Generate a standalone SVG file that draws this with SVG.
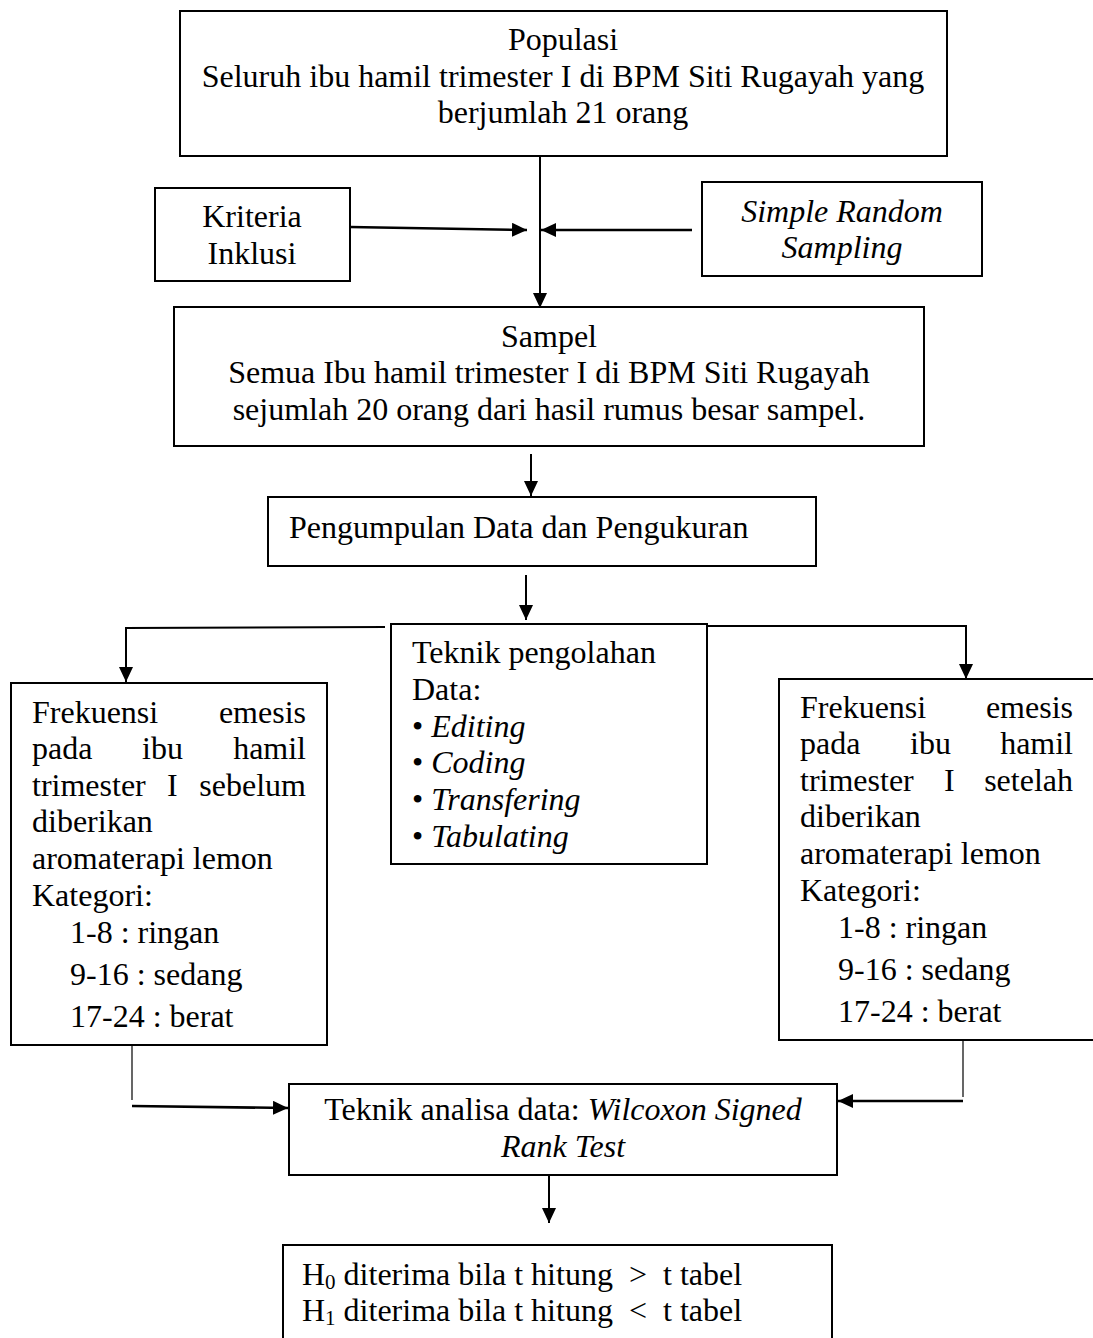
<svg xmlns="http://www.w3.org/2000/svg" width="1093" height="1338" viewBox="0 0 1093 1338">
<style>
  text { font-family: "Liberation Serif", "Times New Roman", serif; font-size: 32px; fill: #000; }
  .it { font-style: italic; }
  .c { text-anchor: middle; }
  .e { text-anchor: end; }
  .box { fill: #fff; stroke: #000; stroke-width: 2; }
  .ln { fill: none; stroke: #000; stroke-width: 2; }
  .thin { fill: none; stroke: #000; stroke-width: 1.2; }
  .thick { fill: none; stroke: #000; stroke-width: 2.6; }
</style>
<defs>
  <marker id="ah" markerUnits="userSpaceOnUse" markerWidth="16" markerHeight="14" refX="15" refY="7" orient="auto">
    <path d="M0,0 L15,7 L0,14 Z" fill="#000"/>
  </marker>
</defs>
<rect width="1093" height="1338" fill="#fff"/>

<g id="connectors">
  <line class="ln" x1="540" y1="156" x2="540" y2="308" marker-end="url(#ah)"/>
  <line class="thick" x1="350" y1="227" x2="527" y2="230" marker-end="url(#ah)"/>
  <line class="thick" x1="692" y1="230" x2="541" y2="230" marker-end="url(#ah)"/>
  <line class="ln" x1="531" y1="454" x2="531" y2="496" marker-end="url(#ah)"/>
  <line class="ln" x1="526" y1="575" x2="526" y2="620" marker-end="url(#ah)"/>
  <polyline class="ln" points="385,627 126,628 126,682" marker-end="url(#ah)"/>
  <polyline class="ln" points="707,626 966,626 966,679" marker-end="url(#ah)"/>
  <line class="thin" x1="132" y1="1045" x2="132" y2="1100"/>
  <line class="thick" x1="132" y1="1106" x2="288" y2="1108" marker-end="url(#ah)"/>
  <line class="thin" x1="963" y1="1041" x2="963" y2="1097"/>
  <line class="thick" x1="963" y1="1101" x2="838" y2="1101" marker-end="url(#ah)"/>
  <line class="ln" x1="549" y1="1168" x2="549" y2="1223" marker-end="url(#ah)"/>
</g>

<g id="populasi">
  <rect class="box" x="180" y="11" width="767" height="145"/>
  <text class="c" x="563" y="50">Populasi</text>
  <text class="c" x="563" y="87">Seluruh ibu hamil trimester I di BPM Siti Rugayah yang</text>
  <text class="c" x="563" y="123">berjumlah 21 orang</text>
</g>

<g id="kriteria">
  <rect class="box" x="155" y="188" width="195" height="93"/>
  <text class="c" x="252" y="227">Kriteria</text>
  <text class="c" x="252" y="264">Inklusi</text>
</g>

<g id="sampling">
  <rect class="box" x="702" y="182" width="280" height="94"/>
  <text class="c it" x="842" y="222">Simple Random</text>
  <text class="c it" x="842" y="258">Sampling</text>
</g>

<g id="sampel">
  <rect class="box" x="174" y="307" width="750" height="139"/>
  <text class="c" x="549" y="347">Sampel</text>
  <text class="c" x="549" y="383">Semua Ibu hamil trimester I di BPM Siti Rugayah</text>
  <text class="c" x="549" y="420">sejumlah 20 orang dari hasil rumus besar sampel.</text>
</g>

<g id="pengumpulan">
  <rect class="box" x="268" y="497" width="548" height="69"/>
  <text x="289" y="538">Pengumpulan Data dan Pengukuran</text>
</g>

<g id="pengolahan">
  <rect class="box" x="391" y="624" width="316" height="240"/>
  <text x="412" y="663">Teknik pengolahan</text>
  <text x="412" y="700">Data:</text>
  <text x="412" y="737">• <tspan class="it">Editing</tspan></text>
  <text x="412" y="773">• <tspan class="it">Coding</tspan></text>
  <text x="412" y="810">• <tspan class="it">Transfering</tspan></text>
  <text x="412" y="847">• <tspan class="it">Tabulating</tspan></text>
</g>

<g id="sebelum">
  <rect class="box" x="11" y="683" width="316" height="362"/>
  <text x="32" y="723">Frekuensi</text>
  <text class="e" x="306" y="723">emesis</text>
  <text x="32" y="759">pada</text>
  <text x="142" y="759">ibu</text>
  <text class="e" x="306" y="759">hamil</text>
  <text x="32" y="796">trimester</text>
  <text x="167" y="796">I</text>
  <text class="e" x="306" y="796">sebelum</text>
  <text x="32" y="832">diberikan</text>
  <text x="32" y="869">aromaterapi lemon</text>
  <text x="32" y="906">Kategori:</text>
  <text x="70" y="943">1-8 : ringan</text>
  <text x="70" y="985">9-16 : sedang</text>
  <text x="70" y="1027">17-24 : berat</text>
</g>

<g id="setelah">
  <rect class="box" x="779" y="679" width="340" height="361"/>
  <text x="800" y="718">Frekuensi</text>
  <text class="e" x="1073" y="718">emesis</text>
  <text x="800" y="754">pada</text>
  <text x="910" y="754">ibu</text>
  <text class="e" x="1073" y="754">hamil</text>
  <text x="800" y="791">trimester</text>
  <text x="944" y="791">I</text>
  <text class="e" x="1073" y="791">setelah</text>
  <text x="800" y="827">diberikan</text>
  <text x="800" y="864">aromaterapi lemon</text>
  <text x="800" y="901">Kategori:</text>
  <text x="838" y="938">1-8 : ringan</text>
  <text x="838" y="980">9-16 : sedang</text>
  <text x="838" y="1022">17-24 : berat</text>
</g>

<g id="analisa">
  <rect class="box" x="289" y="1084" width="548" height="91"/>
  <text class="c" x="563" y="1120">Teknik analisa data: <tspan class="it">Wilcoxon Signed</tspan></text>
  <text class="c it" x="563" y="1157">Rank Test</text>
</g>

<g id="hipotesis">
  <rect class="box" x="283" y="1245" width="549" height="110"/>
  <text x="302" y="1285">H<tspan font-size="21" dy="4">0</tspan><tspan dy="-4"> diterima bila t hitung</tspan></text>
  <text x="629" y="1285">&gt;</text>
  <text x="663" y="1285">t tabel</text>
  <text x="302" y="1321">H<tspan font-size="21" dy="4">1</tspan><tspan dy="-4"> diterima bila t hitung</tspan></text>
  <text x="629" y="1321">&lt;</text>
  <text x="663" y="1321">t tabel</text>
</g>
</svg>
